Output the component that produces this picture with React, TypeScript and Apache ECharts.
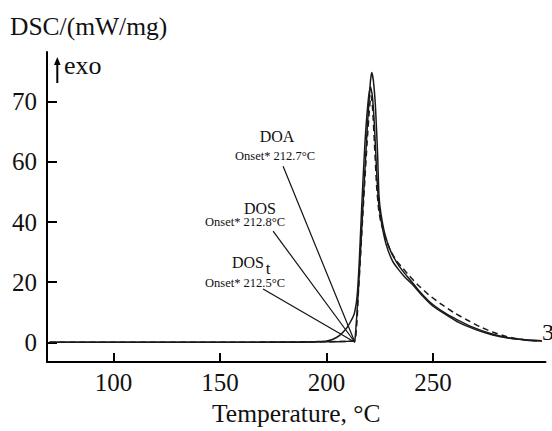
import React, { useEffect, useRef } from "react";
import * as echarts from "echarts";

// Curve A (solid, highest peak)
const tempA = [70, 100, 150, 180, 195, 205, 210, 212.5, 213.3, 215, 217, 219, 220.5, 221.2, 222, 223, 224, 224.6, 225.5, 227.4, 230, 233, 236, 239, 243, 248.5, 255, 261, 268, 276.6, 284.5, 292, 301];
const dscA = [0, 0, 0, 0, 0.1, 0.2, 0.3, 0.4, 0.5, 18, 44, 70, 86, 89.8, 87, 78, 62, 49, 43, 36, 30.5, 26.5, 23.5, 21, 17.5, 13.4, 10, 7.6, 5.2, 3.0, 1.6, 0.9, 0.5];

// Curve B (solid, gradual onset)
const tempB = [70, 150, 180, 190, 195, 200, 203, 206, 209, 211, 213, 214.3, 215.3, 216.5, 218, 219.5, 220.6, 221.5, 222.5, 223.5, 224.5, 226, 228, 231, 234, 237, 240, 245, 250, 256, 262, 270, 278, 286, 294, 301];
const dscB = [0, 0, 0.05, 0.1, 0.2, 0.4, 1.0, 2.2, 4.3, 6.5, 9.5, 15, 26, 45, 66, 80, 85, 82, 72, 57, 46, 39, 32.5, 27, 24, 21.5, 19.5, 15.5, 12, 9.2, 6.6, 4.2, 2.4, 1.3, 0.7, 0.4];

// Curve C (dashed)
const tempC = [70, 150, 200, 210, 213.3, 215, 217, 219, 220.3, 220.9, 221.6, 222.5, 223.5, 224.5, 225.5, 227.5, 230, 233, 236, 239, 243, 248, 254, 260, 266, 272, 278, 284, 290, 296, 301];
const dscC = [0, 0, 0.2, 0.3, 0.5, 17, 42, 66, 79, 82, 78, 66, 52, 44, 40, 35, 30.5, 27, 24.5, 22, 19, 15.8, 12.6, 9.8, 7.4, 5.2, 3.4, 2.0, 1.1, 0.6, 0.3];

// Onset tangent lines: [startTemp, startDsc, endTemp, endDsc]
const onsetDOA = [179.6, 58.6, 213.3, 0];
const onsetDOS = [174.9, 37.0, 213.3, 0];
const onsetDOSt = [170.2, 17.7, 213.3, 0];

const xTickValues = [100, 150, 200, 250];
const yTickValues = [0, 20, 40, 60, 80];
const yTickLabels = ["0", "20", "40", "60", "70"];

const FONT = '"Liberation Serif", "DejaVu Serif", serif';

function zip(xs: number[], ys: number[]) {
  return xs.map((x, i) => [x, ys[i]]);
}

export default function App() {
  const ref = useRef<HTMLDivElement>(null);
  useEffect(() => {
    if (!ref.current) return;
    const chart = echarts.init(ref.current, null, { renderer: "svg" });
    const curveStyle = { color: "#1a1a1a", width: 1.5 };
    const onsetLine = (d: number[]) => ({
      type: "line",
      data: [[d[0], d[1]], [d[2], d[3]]],
      symbol: "none",
      lineStyle: { color: "#111", width: 1.2 },
      silent: true,
      z: 3,
    });
    const txt = (text: string, x: number, y: number, size: number, align = "center") => ({
      type: "text",
      x,
      y,
      style: {
        text,
        fill: "#111",
        font: `${size}px ${FONT}`,
        align,
        verticalAlign: "middle",
      },
    });
    chart.setOption({
      animation: false,
      backgroundColor: "#fff",
      grid: { left: 47, right: 6.5, top: 52, bottom: 67.7, containLabel: false },
      xAxis: {
        type: "value",
        min: 68.75,
        max: 302.8,
        name: "Temperature, °C",
        nameLocation: "middle",
        nameGap: 34,
        nameTextStyle: { fontFamily: FONT, fontSize: 25.5, color: "#111" },
        axisLine: { show: true, onZero: false, lineStyle: { color: "#000", width: 2 } },
        axisTick: { show: true, inside: true, length: 9, customValues: xTickValues, lineStyle: { color: "#000", width: 2 } },
        axisLabel: { customValues: xTickValues, fontFamily: FONT, fontSize: 25, color: "#111", margin: 8 },
        splitLine: { show: false },
      },
      yAxis: {
        type: "value",
        min: -6.6,
        max: 96.6,
        axisLine: { show: true, onZero: false, lineStyle: { color: "#000", width: 2 } },
        axisTick: { show: true, inside: true, length: 10, customValues: yTickValues, lineStyle: { color: "#000", width: 2 } },
        axisLabel: {
          customValues: yTickValues,
          fontFamily: FONT,
          fontSize: 25,
          color: "#111",
          margin: 10,
          formatter: (v: number) => {
            const i = yTickValues.indexOf(v);
            return i >= 0 ? yTickLabels[i] : "";
          },
        },
        splitLine: { show: false },
      },
      series: [
        { type: "line", data: zip(tempA, dscA), symbol: "none", smooth: 0.2, lineStyle: curveStyle, z: 4 },
        { type: "line", data: zip(tempB, dscB), symbol: "none", smooth: 0.2, lineStyle: curveStyle, z: 4 },
        { type: "line", data: zip(tempC, dscC), symbol: "none", smooth: 0.2, lineStyle: { ...curveStyle, type: [6, 4] }, z: 4 },
        onsetLine(onsetDOA),
        onsetLine(onsetDOS),
        onsetLine(onsetDOSt),
      ],
      graphic: [
        { type: "text", x: 10, y: 26, style: { text: "DSC/(mW/mg)", fill: "#111", font: `25.5px ${FONT}`, align: "left", verticalAlign: "middle" } },
        { type: "line", shape: { x1: 57.3, y1: 83, x2: 57.3, y2: 62 }, style: { stroke: "#000", lineWidth: 2 } },
        { type: "polygon", shape: { points: [[54, 65], [60.6, 65], [57.3, 57]] }, style: { fill: "#000" } },
        { type: "text", x: 64, y: 65, style: { text: "exo", fill: "#111", font: `26px ${FONT}`, align: "left", verticalAlign: "middle" } },
        txt("DOA", 277, 136, 16),
        txt("Onset* 212.7°C", 275, 156, 12.5),
        txt("DOS", 260, 208, 16),
        txt("Onset* 212.8°C", 245, 222, 12.5),
        txt("DOS", 248, 262, 16),
        txt("t", 268, 268, 17),
        txt("Onset* 212.5°C", 245, 283, 12.5),
        txt("3", 542, 332, 24, "left"),
      ],
    });
    return () => chart.dispose();
  }, []);
  return <div ref={ref} style={{ position: "fixed", left: 0, top: 0, width: 552, height: 431 }} />;
}
